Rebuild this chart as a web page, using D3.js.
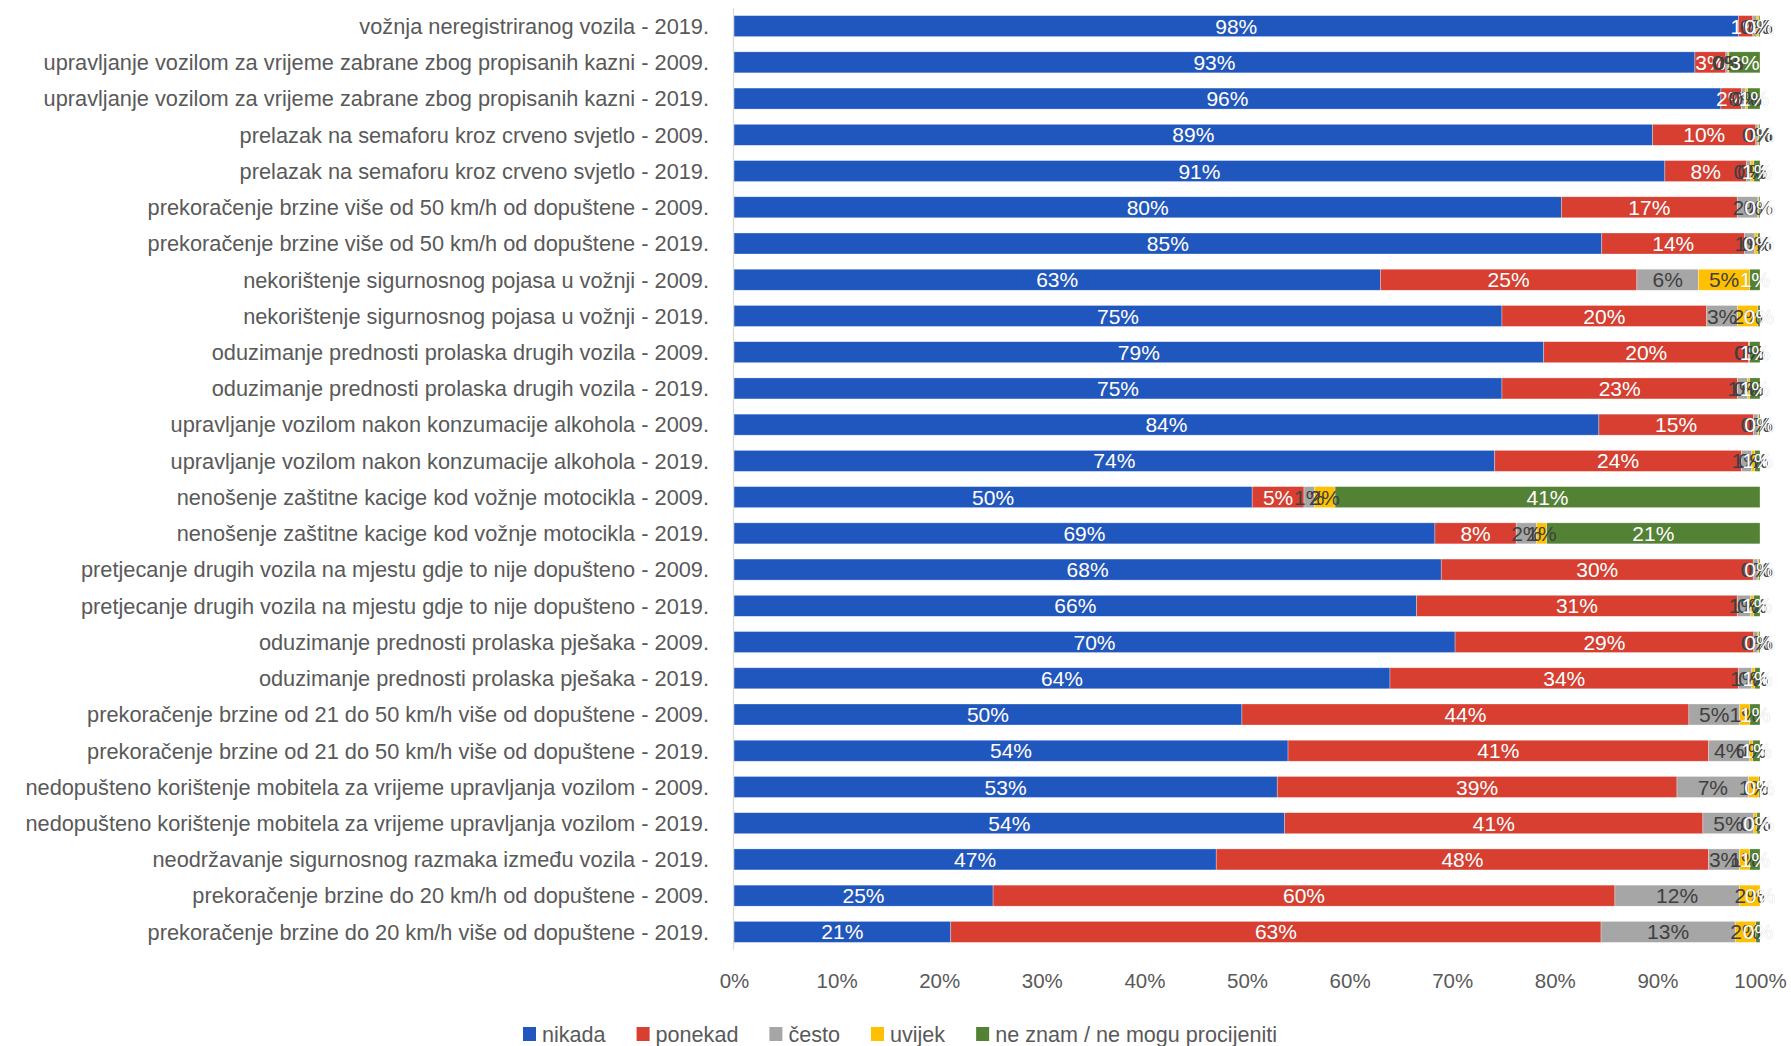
<!DOCTYPE html>
<html>
<head>
<meta charset="utf-8">
<script src="https://cdn.jsdelivr.net/npm/d3@7"></script>
<style>
  body { margin: 0; background: #fff; }
  svg text { font-family: "Liberation Sans", Arial, sans-serif; }
</style>
</head>
<body>
<svg width="1791" height="1046"></svg>
<script>
// kategorije (odozgo prema dolje)
const categories = [
  "vožnja neregistriranog vozila - 2019.",
  "upravljanje vozilom za vrijeme zabrane zbog propisanih kazni - 2009.",
  "upravljanje vozilom za vrijeme zabrane zbog propisanih kazni - 2019.",
  "prelazak na semaforu kroz crveno svjetlo - 2009.",
  "prelazak na semaforu kroz crveno svjetlo - 2019.",
  "prekoračenje brzine više od 50 km/h od dopuštene - 2009.",
  "prekoračenje brzine više od 50 km/h od dopuštene - 2019.",
  "nekorištenje sigurnosnog pojasa u vožnji - 2009.",
  "nekorištenje sigurnosnog pojasa u vožnji - 2019.",
  "oduzimanje prednosti prolaska drugih vozila - 2009.",
  "oduzimanje prednosti prolaska drugih vozila - 2019.",
  "upravljanje vozilom nakon konzumacije alkohola - 2009.",
  "upravljanje vozilom nakon konzumacije alkohola - 2019.",
  "nenošenje zaštitne kacige kod vožnje motocikla - 2009.",
  "nenošenje zaštitne kacige kod vožnje motocikla - 2019.",
  "pretjecanje drugih vozila na mjestu gdje to nije dopušteno - 2009.",
  "pretjecanje drugih vozila na mjestu gdje to nije dopušteno - 2019.",
  "oduzimanje prednosti prolaska pješaka - 2009.",
  "oduzimanje prednosti prolaska pješaka - 2019.",
  "prekoračenje brzine od 21 do 50 km/h više od dopuštene - 2009.",
  "prekoračenje brzine od 21 do 50 km/h više od dopuštene - 2019.",
  "nedopušteno korištenje mobitela za vrijeme upravljanja vozilom - 2009.",
  "nedopušteno korištenje mobitela za vrijeme upravljanja vozilom - 2019.",
  "neodržavanje sigurnosnog razmaka između vozila - 2019.",
  "prekoračenje brzine do 20 km/h od dopuštene - 2009.",
  "prekoračenje brzine do 20 km/h više od dopuštene - 2019."
];

// vrijednosti po seriji (%)
const nikada  = [98, 93, 96, 89, 91, 80, 85, 63, 75, 79, 75, 84, 74, 50, 69, 68, 66, 70, 64, 50, 54, 53, 54, 47, 25, 21];
const ponekad = [1.4, 3, 2, 10, 8, 17, 14, 25, 20, 20, 23, 15, 24, 5, 8, 30, 31, 29, 34, 44, 41, 39, 41, 48, 60, 63];
const cesto   = [0.4, 0.2, 0.4, 0.2, 0.4, 2, 1, 6, 3, 0.1, 1, 0.45, 1, 1, 2, 0.45, 1.3, 0.4, 1.3, 5, 4, 7, 5, 3, 12, 13];
const uvijek  = [0.2, 0.1, 0.2, 0.1, 0.3, 0.1, 0.3, 5, 2, 0, 0.2, 0.1, 0.3, 2, 1, 0.1, 0.3, 0.1, 0.3, 1, 0.3, 1, 0.3, 1, 2, 2];
const neZnam  = [0.1, 3, 1.2, 0.1, 0.6, 0.1, 0.2, 1, 0.2, 1, 1, 0.1, 0.5, 41, 21, 0.1, 0.6, 0.1, 0.5, 1, 0.7, 0.1, 0.3, 1, 0, 0.4];

const seriesNames = ["nikada", "ponekad", "često", "uvijek", "ne znam / ne mogu procijeniti"];
const seriesKeys = ["nikada", "ponekad", "cesto", "uvijek", "neZnam"];
const colors = ["#2057BF", "#D83F30", "#A6A6A6", "#FFC000", "#548235"];
const labelColors = ["#fff", "#fff", "#404040", "#404040", "#fff"];
const xTicks = [0, 0.1, 0.2, 0.3, 0.4, 0.5, 0.6, 0.7, 0.8, 0.9, 1];

const rows = categories.map((c, i) => ({
  cat: c, nikada: nikada[i], ponekad: ponekad[i], cesto: cesto[i], uvijek: uvijek[i], neZnam: neZnam[i]
}));

const svg = d3.select("svg");

const x = d3.scaleLinear().domain([0, 1]).range([734, 1760]);
const y = d3.scaleBand().domain(categories).range([8, 950]).paddingInner(0.42).paddingOuter(0.21);

const stacked = d3.stack().keys(seriesKeys).offset(d3.stackOffsetExpand)(rows);

// trake
svg.append("g").selectAll("g")
  .data(stacked)
  .join("g")
  .attr("fill", (d, i) => colors[i])
  .selectAll("rect")
  .data(d => d)
  .join("rect")
  .attr("x", d => x(d[0]))
  .attr("y", d => y(d.data.cat))
  .attr("width", d => Math.max(0, x(d[1]) - x(d[0])))
  .attr("height", y.bandwidth())
  .attr("stroke", "#fff")
  .attr("stroke-opacity", 0.5)
  .attr("stroke-width", 0.6);

// os
svg.append("line")
  .attr("x1", x(0) - 0.5).attr("x2", x(0) - 0.5)
  .attr("y1", 8).attr("y2", 950)
  .attr("stroke", "#D9D9D9").attr("stroke-width", 1.2);

// natpisi podataka
stacked.forEach((s, si) => {
  svg.append("g").selectAll("text")
    .data(s)
    .join("text")
    .attr("x", d => (x(d[0]) + x(d[1])) / 2)
    .attr("y", d => y(d.data.cat) + y.bandwidth() / 2)
    .attr("dy", "0.36em")
    .attr("text-anchor", "middle")
    .attr("font-size", 21)
    .attr("fill", labelColors[si])
    .attr("stroke", labelColors[si] === "#fff" ? "rgba(90,90,90,0.35)" : "none")
    .attr("stroke-width", 0.6)
    .attr("paint-order", "stroke")
    .text(d => Math.round(d.data[seriesKeys[si]]) + "%");
});

// kategorije
const catLabels = svg.append("g").selectAll("text")
  .data(categories)
  .join("text")
  .attr("x", 709)
  .attr("y", d => y(d) + y.bandwidth() / 2)
  .attr("dy", "0.36em")
  .attr("text-anchor", "end")
  .attr("fill", "#595959")
  .attr("font-size", 20)
  .text(d => d);
// prilagodi veličinu fonta širini iz originala
const w2 = catLabels.nodes()[1].getComputedTextLength();
catLabels.attr("font-size", 20 * 666 / w2);

// x os
const xAxis = svg.append("g")
  .attr("transform", "translate(0,970)")
  .call(d3.axisBottom(x).tickValues(xTicks).tickFormat(d3.format(".0%")).tickSize(0));
xAxis.select(".domain").remove();
xAxis.selectAll("text")
  .attr("font-size", 20.5)
  .attr("fill", "#595959")
  .attr("font-family", "Liberation Sans, Arial, sans-serif");

// legenda
const legend = svg.append("g");
const probe = legend.append("text").attr("font-size", 20).text(seriesNames[4]);
const legendFont = 20 * 282 / probe.node().getComputedTextLength();
probe.remove();
let lx = 523;
seriesNames.forEach((name, i) => {
  const g = legend.append("g").attr("transform", `translate(${lx},1034)`);
  g.append("rect").attr("x", 0).attr("y", -7).attr("width", 13).attr("height", 14).attr("fill", colors[i]);
  const t = g.append("text").attr("x", 19).attr("dy", "0.36em")
    .attr("font-size", legendFont).attr("fill", "#595959").text(name);
  lx += 19 + t.node().getComputedTextLength() + 31;
});
</script>
</body>
</html>
